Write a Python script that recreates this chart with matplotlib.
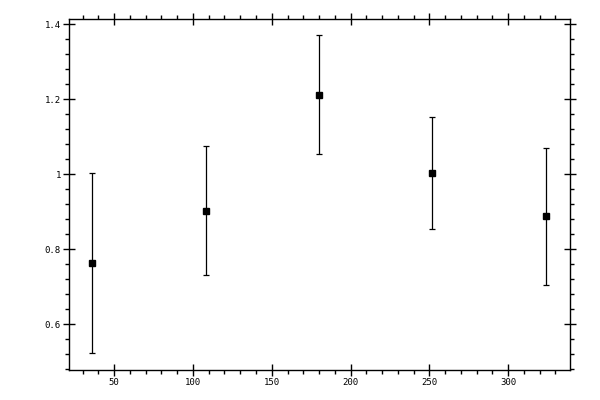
import matplotlib
matplotlib.use("Agg")
import matplotlib.pyplot as plt
from matplotlib import ticker

x = [36, 108, 180, 252, 324]
y = [0.763, 0.901, 1.211, 1.003, 0.888]
upper = [1.003, 1.076, 1.372, 1.152, 1.069]
lower = [0.523, 0.731, 1.053, 0.853, 0.704]

yerr = [[yi - lo for yi, lo in zip(y, lower)], [up - yi for yi, up in zip(y, upper)]]

fig = plt.figure(figsize=(6, 4), dpi=100)
ax = fig.add_axes([0.1155, 0.075, 0.835, 0.8768])
ax.errorbar(x, y, yerr=yerr, fmt='s', color='black', markersize=5,
            elinewidth=0.9, capsize=2, capthick=0.9, ecolor='black')

ax.set_xlim(21.5, 339.5)
ax.set_ylim(0.478, 1.413)
ax.xaxis.set_major_locator(ticker.MultipleLocator(50))
ax.xaxis.set_minor_locator(ticker.MultipleLocator(10))
ax.yaxis.set_major_locator(ticker.MultipleLocator(0.2))
ax.yaxis.set_minor_locator(ticker.MultipleLocator(0.04))
ax.yaxis.set_major_formatter(ticker.FormatStrFormatter('%g'))

for s in ax.spines.values():
    s.set_linewidth(1.0)

ax.tick_params(which='major', direction='inout', length=8, width=1.0,
               top=True, right=True, labelsize=6.5, pad=2)
ax.tick_params(which='minor', direction='out', length=3, width=1.0,
               top=True, right=True)
for lab in ax.get_xticklabels() + ax.get_yticklabels():
    lab.set_family('DejaVu Sans Mono')

fig.savefig("out.png", dpi=100)
